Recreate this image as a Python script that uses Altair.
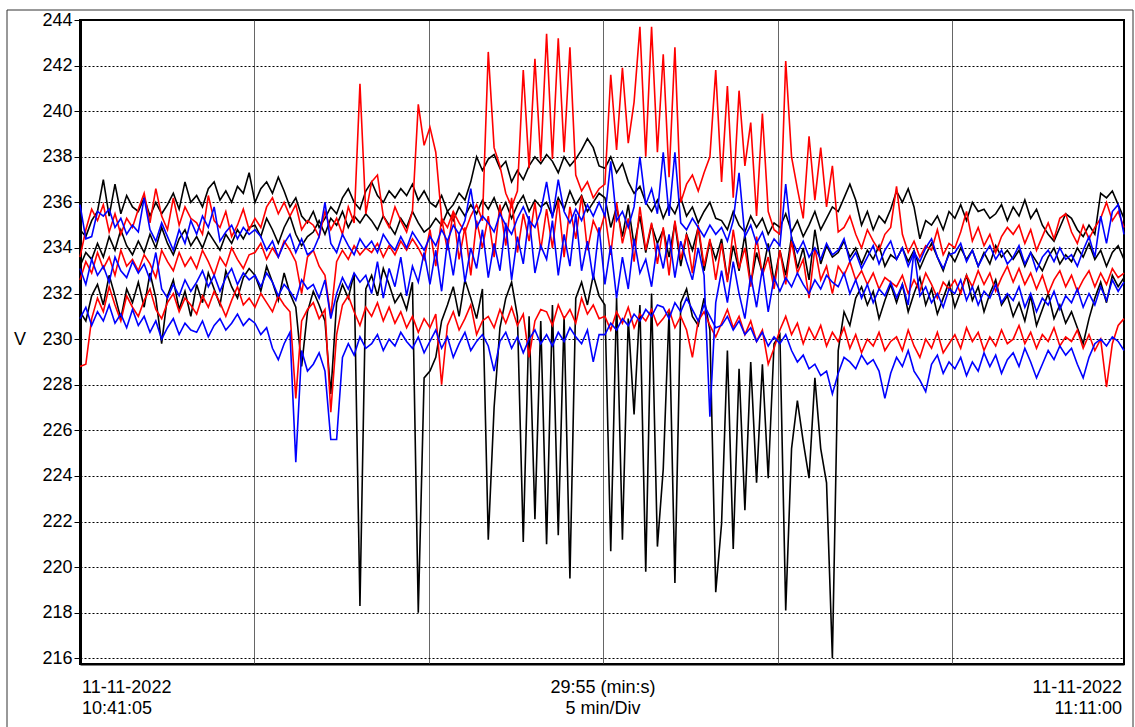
import altair as alt
import pandas as pd

# ---------------- data (volts, 10 s steps) ----------------
black_max = [
    234.8, 234.5, 235.2, 235.6, 237.0, 235.4, 236.8, 235.5, 236.3, 235.8,
    235.6, 236.2, 235.4, 236.0, 235.5, 235.9, 236.4, 235.7, 236.9, 236.0,
    236.3, 235.8, 236.6, 236.9, 236.1, 236.5, 236.0, 236.7, 236.4, 237.3,
    236.0, 236.6, 236.9, 236.4, 237.1, 236.5, 235.8, 236.2, 235.4, 235.1,
    235.6, 234.9, 235.3, 235.8, 235.5, 236.2, 236.6, 236.0, 235.7, 236.5,
    236.9, 236.3, 236.0, 236.5, 236.2, 236.6, 236.3, 236.8, 236.1, 236.5,
    236.0, 235.8, 236.3, 235.6, 235.9, 236.4, 236.1, 236.9, 238.0, 237.4,
    237.9, 238.1, 237.5, 237.8, 236.9, 237.4, 237.0, 237.6, 238.0, 237.7,
    238.1, 237.8, 237.3, 238.0, 237.6, 237.9, 238.3, 238.8, 238.4, 237.6,
    237.5, 238.0, 237.3, 237.7, 236.9, 236.4, 236.7, 236.0, 235.6, 236.1,
    235.3, 235.9, 235.5, 236.2, 235.4, 235.8, 235.1, 235.6, 236.0, 235.3,
    235.2, 234.8, 235.6, 235.0, 234.7, 235.4, 234.9, 235.3, 234.6, 235.1,
    234.9, 235.5, 234.7, 235.2, 234.5, 235.0, 235.6, 234.8, 235.3, 235.8,
    235.6, 236.2, 236.8, 236.1, 235.0, 235.6, 234.8, 235.4, 235.1, 235.7,
    236.5, 236.0, 236.6, 235.8, 234.4, 235.2, 235.0, 235.4, 234.8, 235.6,
    235.3, 235.9, 235.2, 236.0, 235.6, 235.7, 235.3, 235.5, 235.9, 235.2,
    235.8, 235.4, 236.1, 235.3, 235.7, 235.0, 234.6, 234.3, 234.9, 235.5,
    235.3, 234.8, 234.5, 235.0, 234.6, 236.4, 236.2, 236.5, 235.9, 235.3,
]
black_avg = [
    233.2, 233.8, 233.5, 234.2, 233.6, 234.5, 233.9, 234.8, 234.1, 233.7,
    234.3, 233.8, 234.6, 234.0, 234.9, 234.2, 233.7, 234.4, 234.8, 234.1,
    234.5, 234.0, 234.7, 234.3, 233.9, 234.6, 234.2, 234.8, 234.4, 234.9,
    235.0, 234.5, 235.3, 234.8, 234.2, 234.9, 235.4, 234.6, 234.1, 234.5,
    234.7, 235.2, 234.6, 235.3, 235.0, 235.6, 234.9, 235.4, 235.1, 235.5,
    235.2, 234.8, 235.4, 235.0, 234.6, 235.3, 234.9, 235.6, 235.1, 234.7,
    234.9, 235.3, 235.0, 235.6, 235.2, 235.8, 235.4, 235.9, 235.5, 236.1,
    235.7, 236.2, 235.5, 236.0, 235.3, 235.9, 236.3, 235.6, 236.1, 235.8,
    236.0, 235.4, 236.2, 235.7, 236.5, 235.9, 236.3, 235.6, 236.0, 236.4,
    236.2, 234.9, 235.8, 234.5, 235.9, 234.1, 235.4, 233.8, 235.0, 234.2,
    234.8, 233.6, 235.1, 233.2, 234.6, 233.9, 234.9, 233.0, 234.3, 233.5,
    234.4, 232.6, 234.1, 233.0, 234.6, 232.4, 233.8, 232.9, 234.2, 232.5,
    233.9, 232.8, 234.5, 233.1, 234.0, 232.6, 234.8, 233.3, 234.1, 233.6,
    233.8, 234.3, 233.6, 234.0, 233.3, 233.9, 233.5, 234.1, 233.2, 233.7,
    233.5, 234.0, 233.4, 233.9, 233.1, 233.7, 234.2, 233.6, 233.0, 233.8,
    233.4, 234.0, 233.5, 233.9, 233.2, 233.8, 233.3, 234.1, 233.6, 233.9,
    233.5, 233.9, 233.2, 233.8, 233.4, 233.0, 233.6, 234.0, 233.3, 233.7,
    233.4, 234.0, 233.6, 234.2, 233.5, 233.9, 233.2, 233.8, 234.1, 233.5,
]
black_min = [
    231.2, 230.8, 231.9, 232.4, 231.5, 232.8, 231.9, 230.9, 232.2, 231.6,
    232.5, 231.4, 232.9, 231.8, 229.8, 231.9, 232.6, 231.3, 232.1, 231.0,
    232.4, 231.6, 232.9, 232.2, 231.5, 233.0, 232.3, 231.8, 232.7, 233.1,
    232.8, 232.1, 233.2, 232.5, 231.7, 232.9, 232.0, 231.4, 228.8, 231.2,
    232.1, 231.5, 230.8, 227.6, 231.6, 232.4, 231.8, 232.9, 218.3, 232.2,
    232.8, 231.9, 233.1, 232.4, 231.6, 232.0, 231.3, 232.5, 218.0, 228.3,
    228.6, 229.2, 230.8, 231.5, 232.3, 231.0, 232.6, 231.8, 230.9, 232.2,
    221.2, 227.0, 230.5, 231.8, 232.5, 231.0, 221.1, 231.0, 222.1, 230.8,
    221.0, 231.5, 221.4, 231.0, 219.5, 231.8, 232.5, 231.5, 232.8, 231.9,
    231.5, 220.7, 231.8, 221.2, 230.9, 226.7, 231.5, 219.8, 232.0, 220.9,
    224.3, 231.2, 219.3, 231.6, 232.2, 231.0, 230.6, 231.8, 230.4, 218.9,
    221.9, 229.5, 220.8, 228.7, 222.5, 229.0, 223.7, 228.9, 223.9, 229.8,
    230.2, 218.1, 225.2, 227.3, 225.5, 223.9, 228.3, 225.2, 223.7, 216.0,
    229.5, 231.2, 230.6, 231.8, 232.3, 231.5, 232.1, 230.9, 231.7, 232.4,
    231.6, 232.4, 231.2, 232.0, 232.7, 231.5, 232.2, 231.1, 231.8, 232.5,
    231.4, 232.1, 232.8, 231.7, 232.3, 231.2, 232.0, 232.6, 231.5, 231.9,
    231.0, 231.6, 230.8, 231.9, 230.6, 231.3, 232.0, 230.9, 231.5, 230.7,
    231.2, 230.5, 229.8, 230.9, 231.8, 232.5, 231.6, 232.8, 232.3, 232.7,
]
red_max = [
    233.6, 234.8, 235.7, 235.2, 235.9, 234.7, 235.5, 234.6, 235.3, 234.9,
    235.7, 236.4, 235.1, 236.6, 235.4, 234.8, 236.2, 235.0, 235.8, 235.3,
    235.1, 234.6, 236.3, 235.2, 234.9, 235.6, 234.5, 235.0, 235.7, 234.8,
    235.3, 234.9, 235.8, 236.2, 235.5, 236.0, 235.4, 235.9, 234.8, 235.2,
    235.0, 234.5, 235.6, 234.8, 235.3, 234.6, 235.8, 235.1, 241.2, 235.5,
    236.9, 237.2, 235.4, 234.9, 235.8, 235.2, 234.7, 235.6, 240.3, 238.5,
    239.3, 238.2, 235.3, 234.9, 235.6, 235.1, 234.7, 235.4, 235.9, 235.2,
    242.6, 238.4, 237.6, 236.4, 235.8, 236.5, 241.8, 237.5, 242.3, 237.8,
    243.4, 237.9, 243.2, 238.2, 242.8, 237.2, 236.5, 236.9, 236.2, 236.6,
    236.8, 241.6, 238.3, 241.9, 238.6, 240.4, 243.7, 238.0, 243.7, 238.2,
    242.5, 237.1, 242.8, 236.0, 236.8, 237.2, 236.5, 237.3, 238.0, 241.8,
    236.9, 241.1, 236.2, 240.9, 237.6, 239.5, 235.4, 239.9, 235.6, 234.8,
    234.6, 242.2, 238.0, 236.6, 235.3, 238.9, 236.1, 238.4, 235.8, 237.6,
    234.7, 234.9, 235.4, 234.6, 234.0, 234.8, 234.3, 233.9, 234.6, 234.9,
    236.7, 234.6, 233.8, 234.3, 233.6, 234.1, 233.9, 234.8, 233.7, 234.2,
    234.0, 234.7, 235.6, 234.3, 234.9, 234.1, 234.6, 233.8, 234.5, 234.9,
    234.6, 235.0, 234.2, 234.8, 233.9, 234.5, 235.1, 234.4, 235.3, 235.5,
    234.7, 234.2, 235.0, 234.4, 234.9, 235.3, 236.0, 235.2, 235.6, 234.9,
]
red_avg = [
    232.6, 233.4, 232.9, 233.8, 233.1, 233.6, 232.8, 233.9, 233.2, 233.5,
    233.0, 233.7, 233.3, 232.7, 233.9, 233.4, 233.0, 233.8, 233.2, 233.6,
    233.1, 233.9, 233.4, 232.8, 233.6, 233.2, 234.0, 233.5, 233.1, 233.7,
    233.8, 234.2, 233.5, 234.0, 233.6, 234.3, 233.9, 233.4, 232.0, 233.6,
    233.9, 233.2, 232.8, 231.0, 233.4, 233.9, 233.5, 234.1, 233.7, 234.0,
    233.8, 234.2, 233.6, 234.1, 233.7, 234.3, 233.9, 234.4, 234.0, 233.5,
    234.8, 233.2, 235.3, 233.9, 235.6, 233.5, 234.9, 232.8, 235.2, 234.0,
    235.4, 233.6, 235.9, 234.1, 236.2, 233.8, 235.5, 234.3, 236.0, 233.9,
    235.7, 234.0, 236.1, 233.6, 235.8, 234.4, 236.3, 233.9, 235.2, 234.6,
    235.5, 233.7, 236.0, 234.2, 235.3, 233.4, 235.8, 233.9, 235.1, 233.3,
    234.9, 232.8, 235.2, 233.5, 234.6, 232.9, 235.0, 233.2, 234.4, 232.6,
    234.2, 232.5, 234.8, 233.1, 234.0, 232.3, 234.5, 232.8, 233.6, 232.2,
    233.9, 232.4, 234.3, 232.9, 233.5, 231.8, 234.0, 232.6, 233.2, 232.0,
    233.2, 232.8, 233.4, 232.6, 233.0, 232.4, 232.9, 232.2, 232.7, 232.5,
    232.3, 232.8, 232.0, 232.6, 232.1, 232.9, 232.4, 231.8, 232.5, 232.2,
    232.6, 232.0, 232.8, 232.3, 233.0, 232.4, 232.9, 232.1, 232.7, 233.2,
    232.5, 233.1, 232.4, 232.9, 232.2, 232.8, 232.0, 232.6, 233.0, 232.3,
    232.8, 232.1, 232.6, 233.0, 232.3, 232.9, 232.4, 233.1, 232.7, 232.9,
]
red_min = [
    228.8, 228.9, 230.9, 231.8, 231.2, 232.3, 231.5, 230.8, 231.9, 231.4,
    231.0, 231.7, 232.2, 231.3, 230.9, 231.6, 232.0, 231.2, 231.8, 231.5,
    231.1, 231.9, 231.4, 232.1, 231.6, 231.0, 231.7, 232.3, 231.5, 231.8,
    231.4, 232.0, 231.6, 231.2, 231.9, 231.5, 231.2, 227.4, 230.8, 231.3,
    231.6, 230.9, 231.3, 226.8, 230.2, 231.5, 231.9, 231.2, 230.6, 231.4,
    231.0, 231.6, 230.8, 231.4, 230.7, 231.2, 230.5, 231.0, 230.3, 230.9,
    230.5, 231.1, 228.0, 230.6, 231.2, 230.4, 230.9, 231.5, 230.2, 230.8,
    231.0, 230.5, 231.3, 230.7, 231.4, 230.6, 231.1, 229.2, 230.8, 231.3,
    231.2, 230.6, 231.5, 230.9, 231.3, 230.7, 231.8, 231.1, 231.5, 230.9,
    231.0, 230.4, 231.2, 230.7, 231.4, 230.5, 231.1, 230.8, 231.3, 230.6,
    230.9, 231.3, 230.5, 231.0, 230.4, 229.2, 230.8, 231.2, 230.6, 230.1,
    230.7, 231.3, 230.5, 231.0, 230.2, 230.8, 229.9, 230.4, 228.9, 229.6,
    230.4, 231.0, 230.2, 230.7, 229.8, 230.5, 230.0, 230.6, 229.7, 230.3,
    229.9, 230.5, 229.6, 230.2, 229.4, 230.0, 229.7, 230.3, 229.5, 229.9,
    230.1, 229.5, 230.4, 229.7, 229.2, 230.0, 229.6, 230.3, 229.4, 229.8,
    230.2, 229.6, 230.5, 229.9, 230.3, 229.5, 230.1, 229.7, 230.4, 229.8,
    230.0, 230.6, 229.8, 230.3, 229.6, 230.2, 229.9, 230.5, 229.7, 230.1,
    229.9, 230.4, 229.6, 230.2, 229.5, 230.0, 227.9, 229.8, 230.6, 230.9,
]
blue_max = [
    235.9, 234.4, 234.5, 235.6, 235.4, 235.7, 234.9, 235.3, 234.6, 235.0,
    234.7, 236.2, 234.8, 234.3, 235.1, 234.5, 233.9, 234.8, 234.2, 235.2,
    234.6, 235.4, 234.9, 235.8, 234.3, 234.7, 235.0, 234.4, 234.9, 234.6,
    234.8, 234.5, 233.9, 234.3, 233.6, 234.2, 234.6, 233.8, 234.4, 233.7,
    233.9, 234.5, 236.0, 234.2, 233.8, 234.6, 234.1, 233.7, 234.4, 234.0,
    234.3, 233.8, 234.6, 234.2, 233.9, 234.5, 234.0, 234.7, 234.3, 233.9,
    234.5, 234.1, 234.8, 234.3, 235.0, 234.6, 235.2, 236.6, 234.9, 235.4,
    235.1, 234.7, 235.5, 235.0, 234.6, 235.3, 235.8, 235.2, 234.9, 235.6,
    236.9, 235.3, 237.0, 235.6, 235.1, 235.7, 235.2, 235.9, 235.4, 236.0,
    235.4, 237.8, 235.2, 235.6, 234.9, 235.8, 238.0, 235.9, 236.6, 235.5,
    238.2, 235.4, 238.2, 235.1, 234.8, 235.3, 234.9, 234.5, 235.0, 234.6,
    234.9, 234.3, 235.2, 237.3, 234.5, 235.0, 234.2, 234.7, 233.9, 234.4,
    234.1, 236.8, 234.4, 233.8, 234.3, 233.6, 234.0, 233.5, 234.2, 233.7,
    233.9, 234.4, 233.4, 233.8, 233.1, 233.6, 234.1, 233.3, 233.9, 234.3,
    233.5, 234.0, 233.2, 233.8, 233.4, 234.0, 234.4, 233.6, 233.1, 233.7,
    233.8, 234.2, 233.4, 233.9, 233.2, 233.7, 234.1, 233.5, 233.9, 233.3,
    233.6, 234.1, 233.3, 233.8, 233.0, 233.6, 233.9, 233.4, 234.0, 233.5,
    233.7, 233.2, 233.9, 234.5, 233.6, 235.4, 234.2, 235.6, 235.9, 234.6,
]
blue_avg = [
    233.1, 232.4, 233.5, 232.8, 233.2, 232.5, 233.6, 233.0, 232.7, 233.4,
    232.9, 233.3, 232.6, 233.8, 232.2, 231.8, 232.4, 231.9, 232.6, 232.1,
    232.5, 233.0, 232.3, 232.8, 232.1, 232.7, 233.1, 232.4, 232.9, 232.6,
    232.8, 232.3, 232.9, 232.5, 231.9, 232.4, 232.1, 231.7, 232.6, 232.2,
    232.4, 231.8, 232.6, 230.9, 232.0, 232.7, 232.2, 232.9, 232.5, 232.8,
    232.0, 233.4, 231.8, 233.1, 232.3, 233.6, 231.9, 233.2, 232.5, 233.8,
    232.4, 233.9, 232.1, 234.3, 232.8, 234.6, 232.5, 234.0, 233.1, 234.8,
    232.7, 234.2, 233.0, 235.1, 232.6, 234.5, 233.3, 235.4, 232.9, 234.1,
    233.5, 235.2, 232.8, 234.6, 233.2, 235.5, 233.0, 234.3, 232.6, 234.9,
    232.4, 234.1, 231.8, 233.6, 232.2, 234.4, 232.9, 233.5, 232.3, 234.2,
    233.1, 234.6, 232.7, 234.3, 233.4, 232.6, 234.0, 232.8, 226.6, 231.6,
    233.0, 231.6, 233.4, 232.0, 230.9, 232.8, 231.4, 233.1, 231.2, 232.7,
    232.1, 232.7, 232.3, 232.9, 232.4, 232.0, 232.6, 232.2, 232.8, 232.5,
    232.3, 232.9, 232.0, 232.6, 231.8, 232.4, 231.6, 232.2, 231.9, 232.5,
    231.8, 232.4, 231.5, 233.9, 231.9, 232.3, 231.6, 232.0, 231.4, 232.2,
    232.0, 232.6, 231.7, 232.3, 231.5, 232.1, 231.8, 232.4, 231.6, 232.0,
    231.7, 232.3, 231.4, 232.0, 231.2, 231.8, 231.5, 232.1, 231.3, 231.9,
    231.6, 232.2, 231.4, 232.0, 231.5, 232.3, 231.7, 232.6, 232.1, 232.5,
]
blue_min = [
    230.9, 231.4, 230.6, 231.2, 230.8, 231.5, 230.7, 231.1, 230.5, 231.3,
    230.6, 231.0, 230.3, 230.8, 230.0, 230.5, 230.9, 230.2, 230.7, 230.4,
    230.3, 230.8, 230.1, 230.6, 230.9, 230.4, 230.7, 231.1, 230.6, 230.9,
    230.7, 230.2, 230.5, 229.6, 229.1, 229.8, 230.3, 224.6, 229.5, 228.6,
    228.9, 229.4, 228.6, 225.6, 225.6, 229.2, 229.8, 229.3, 230.1, 229.6,
    229.8, 230.2, 229.5, 230.0, 229.7, 230.3, 229.9, 229.6, 230.1, 229.4,
    229.9, 230.4, 229.6, 230.1, 229.2, 229.8, 230.3, 229.5, 229.9, 230.2,
    229.7, 228.6, 229.9, 230.3, 229.6, 230.1, 229.4, 230.0, 230.4, 229.8,
    230.2, 229.7, 230.3, 229.9, 230.5, 230.1, 229.8, 230.4, 229.0, 230.2,
    230.2, 230.7, 230.4, 230.9, 230.6, 231.1, 230.8, 231.3, 231.0, 231.5,
    231.4, 230.9, 231.6, 231.2, 231.8, 231.3, 230.8, 231.5, 231.0, 230.5,
    230.6, 231.0, 230.4, 230.8, 230.2, 230.5, 229.9, 230.3, 229.7, 230.1,
    229.8, 230.2, 229.5, 229.0, 229.3, 228.7, 228.9, 228.4, 228.6, 227.6,
    228.5, 229.2, 229.0, 228.7, 229.3, 228.9, 229.1, 228.6, 227.4, 228.5,
    229.2, 228.8, 229.5, 228.6, 228.2, 227.7, 228.9, 229.3, 228.5, 229.0,
    228.7, 229.2, 228.4, 229.0, 228.6, 229.4, 228.8, 229.3, 228.5, 229.1,
    229.4, 228.8, 229.6, 229.0, 228.3, 228.9, 229.5, 229.1, 229.7, 229.3,
    229.6, 228.9, 228.3, 229.2, 229.8, 230.0, 229.7, 230.1, 229.9, 229.5,
]

series_names = ["black_max", "black_avg", "black_min",
                "red_max", "red_avg", "red_min",
                "blue_max", "blue_avg", "blue_min"]
series_values = [black_max, black_avg, black_min,
                 red_max, red_avg, red_min,
                 blue_max, blue_avg, blue_min]
series_colors = ["#000000", "#000000", "#000000",
                 "#ff0000", "#ff0000", "#ff0000",
                 "#0000ff", "#0000ff", "#0000ff"]

span_s = 1795  # 29:55 (min:s)
y_ticks = [216, 218, 220, 222, 224, 226, 228, 230, 232, 234, 236, 238, 240, 242, 244]
x_grid = [300, 600, 900, 1200, 1500]

left_lines = ["11-11-2022", "10:41:05"]
center_lines = ["29:55 (min:s)", "5 min/Div"]
right_lines = ["11-11-2022", "11:11:00"]

W, H = 1044, 644
FONT = "Liberation Sans"

x_enc = alt.X("t:Q", scale=alt.Scale(domain=[0, span_s], nice=False, zero=False),
              axis=alt.Axis(values=x_grid, labels=False, ticks=False, title=None,
                            grid=True, gridColor="#666666", gridWidth=1,
                            domainColor="black", domainWidth=2))
y_enc = alt.Y("v:Q", scale=alt.Scale(domain=[215.75, 244], nice=False, zero=False),
              axis=alt.Axis(values=y_ticks, title=None, grid=True, gridColor="black",
                            gridDash=[2, 2], gridWidth=1, tickSize=6, tickColor="black",
                            labelFontSize=18, labelFont=FONT, labelColor="black",
                            labelPadding=2, labelFlush=False, labelOverlap=False,
                            domainColor="black", domainWidth=3, format="d"))

layers = []
for name, vals, col in zip(series_names, series_values, series_colors):
    n = len(vals)
    df = pd.DataFrame({"t": [i * span_s / (n - 1) for i in range(n)], "v": vals})
    layers.append(alt.Chart(df).mark_line(color=col, strokeWidth=1.6).encode(x=x_enc, y=y_enc))

one = pd.DataFrame({"k": [0]})

frame = alt.Chart(one).mark_rect(filled=False, stroke="#333333", strokeWidth=1).encode(
    x=alt.value(-73), x2=alt.value(1053), y=alt.value(-10), y2=alt.value(720))

v_label = alt.Chart(one).mark_text(font=FONT, fontSize=18, color="black",
                                   align="center", baseline="middle").encode(
    x=alt.value(-60), y=alt.value(320), text=alt.value("V"))


def text_block(lines, xpx, align):
    out = []
    for j, s in enumerate(lines):
        out.append(alt.Chart(one).mark_text(font=FONT, fontSize=18, color="black",
                                            align=align, baseline="alphabetic").encode(
            x=alt.value(xpx), y=alt.value(673 + 21 * j), text=alt.value(s)))
    return out


texts = (text_block(left_lines, 2, "left") + text_block(center_lines, 523, "center")
         + text_block(right_lines, 1042, "right"))

chart = alt.layer(*layers, frame, v_label, *texts).properties(
    width=W, height=H,
    padding={"left": 80, "top": 20, "right": 11, "bottom": 63},
    autosize=alt.AutoSizeParams(type="none"),
    background="white",
).configure_view(stroke="black", strokeWidth=2)

chart.save("out.html", embed_options={"renderer": "svg", "actions": False})
